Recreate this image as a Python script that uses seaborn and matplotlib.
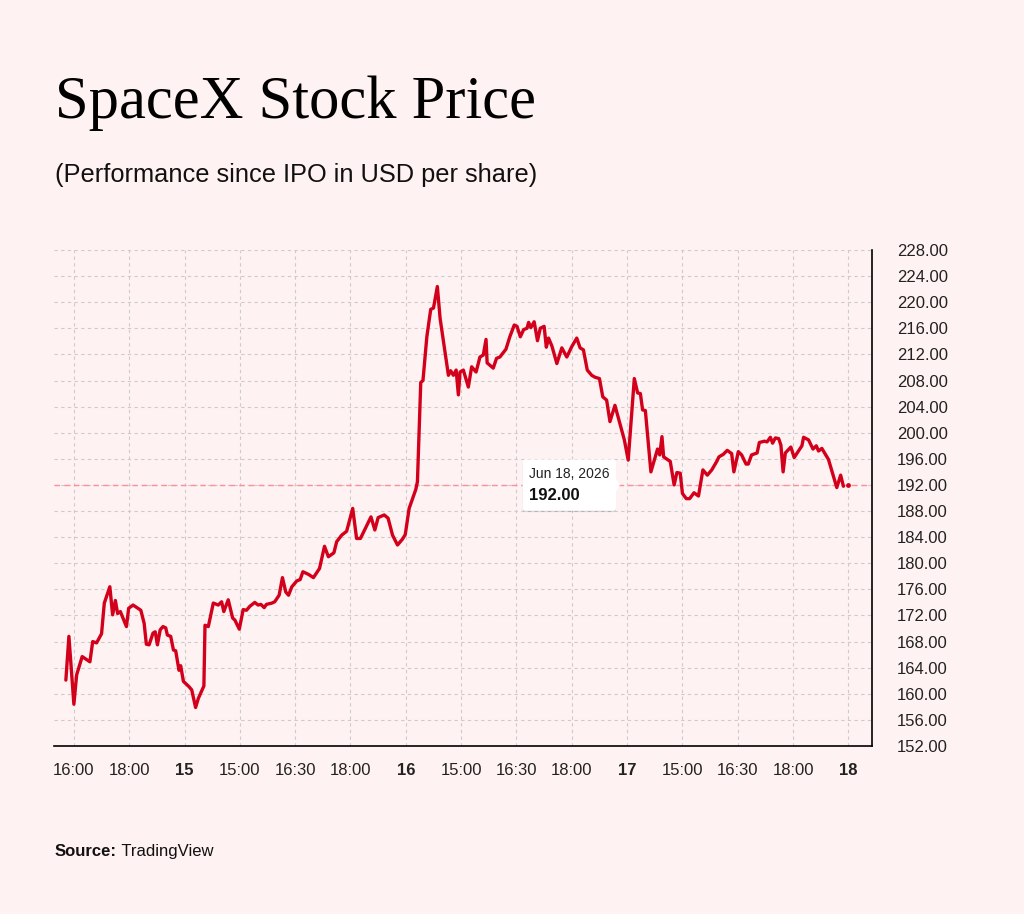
import matplotlib.pyplot as plt
import matplotlib.patches as mpatches
import matplotlib.patheffects as pe
import pandas as pd
import seaborn as sns

# axis labels (TradingView style, evenly spaced)
tick_labels = ['16:00', '18:00', '15', '15:00', '16:30', '18:00', '16', '15:00',
               '16:30', '18:00', '17', '15:00', '16:30', '18:00', '18']
day_labels = ['15', '16', '17', '18']

# position along the x axis (in tick steps) and price
pos = [-0.145, -0.09, 0.0, 0.05, 0.15, 0.29, 0.34, 0.41, 0.50, 0.55, 0.65, 0.70,
       0.75, 0.79, 0.84, 0.95, 0.99, 1.07, 1.14, 1.21, 1.27, 1.31, 1.36, 1.43,
       1.47, 1.51, 1.56, 1.61, 1.66, 1.69, 1.75, 1.80, 1.84, 1.90, 1.93, 1.98,
       2.08, 2.13, 2.20, 2.25, 2.35, 2.37, 2.43, 2.52, 2.61, 2.67, 2.71, 2.79,
       2.87, 2.91, 2.99, 3.06, 3.12, 3.18, 3.27, 3.33, 3.38, 3.44, 3.48, 3.58,
       3.63, 3.71, 3.77, 3.83, 3.88, 3.94, 4.03, 4.09, 4.14, 4.24, 4.33, 4.44,
       4.53, 4.60, 4.70, 4.75, 4.84, 4.93, 5.04, 5.11, 5.18, 5.29, 5.37, 5.44,
       5.50, 5.61, 5.68, 5.76, 5.85, 5.94, 5.99, 6.06, 6.18, 6.21, 6.27, 6.31,
       6.38, 6.45, 6.50, 6.57, 6.62, 6.77, 6.81, 6.86, 6.91, 6.95, 6.98, 7.04,
       7.13, 7.19, 7.27, 7.34, 7.40, 7.45, 7.47, 7.58, 7.64, 7.70, 7.81, 7.88,
       7.96, 8.01, 8.07, 8.13, 8.19, 8.22, 8.26, 8.32, 8.38, 8.43, 8.50, 8.54,
       8.58, 8.64, 8.73, 8.82, 8.91, 9.00, 9.09, 9.15, 9.21, 9.28, 9.36, 9.42,
       9.50, 9.56, 9.63, 9.69, 9.78, 9.87, 9.95, 10.02, 10.13, 10.19, 10.24,
       10.28, 10.33, 10.43, 10.55, 10.59, 10.63, 10.66, 10.78, 10.85, 10.90,
       10.96, 11.00, 11.07, 11.13, 11.21, 11.29, 11.37, 11.45, 11.53, 11.62,
       11.66, 11.74, 11.81, 11.89, 11.93, 12.01, 12.07, 12.15, 12.19, 12.25,
       12.35, 12.39, 12.48, 12.53, 12.59, 12.63, 12.68, 12.74, 12.78, 12.82,
       12.86, 12.96, 13.02, 13.16, 13.19, 13.28, 13.36, 13.42, 13.46, 13.52,
       13.64, 13.73, 13.79, 13.86, 13.91]
price = [162.1, 168.8, 158.4, 162.9, 165.7, 164.9, 168.0, 167.8, 169.2, 173.9,
         176.4, 172.1, 174.3, 172.3, 172.6, 170.3, 173.1, 173.6, 173.2, 172.8,
         170.8, 167.6, 167.5, 169.3, 169.5, 167.5, 169.8, 170.3, 170.1, 169.0,
         168.8, 166.7, 166.6, 163.6, 164.3, 161.9, 161.1, 160.6, 157.9, 159.3,
         161.2, 170.5, 170.3, 173.9, 173.6, 174.1, 172.6, 174.4, 171.6, 171.3,
         169.9, 172.9, 172.8, 173.4, 174.0, 173.6, 173.7, 173.2, 173.7, 173.9,
         174.1, 175.1, 177.8, 175.6, 175.1, 176.4, 177.3, 177.5, 178.7, 178.3,
         177.8, 179.2, 182.6, 181.0, 181.6, 183.3, 184.3, 184.9, 188.4, 183.8,
         183.8, 185.7, 187.1, 185.1, 187.0, 187.4, 186.9, 184.3, 182.8, 183.7,
         184.4, 188.4, 191.3, 192.5, 207.7, 208.0, 214.7, 218.9, 219.1, 222.4,
         217.5, 208.8, 209.5, 208.8, 209.6, 205.8, 209.3, 209.6, 207.0, 210.1,
         209.3, 211.6, 211.9, 214.3, 210.7, 209.9, 211.4, 211.6, 212.8, 214.7,
         216.5, 216.3, 214.7, 215.8, 216.0, 216.9, 216.1, 217.0, 214.1, 216.0,
         216.3, 213.1, 214.5, 213.3, 210.6, 213.0, 211.6, 213.2, 214.5, 213.0,
         212.7, 209.6, 208.8, 208.5, 208.3, 205.5, 205.0, 201.7, 204.2, 201.4,
         198.9, 195.8, 208.3, 206.1, 206.0, 203.5, 203.4, 194.0, 197.5, 196.6,
         199.4, 196.3, 195.6, 192.0, 193.9, 193.8, 190.7, 189.9, 189.9, 190.8,
         190.3, 194.3, 193.5, 194.3, 195.6, 196.3, 196.7, 197.3, 196.8, 194.0,
         197.1, 196.6, 195.2, 195.2, 196.6, 196.9, 198.5, 198.7, 198.6, 199.3,
         198.4, 199.2, 199.1, 198.1, 194.0, 196.9, 197.8, 196.2, 198.0, 199.3,
         198.9, 197.5, 198.0, 197.2, 197.6, 195.9, 193.3, 191.6, 193.5, 191.8]

last_date = 'Jun 18, 2026'
last_price = 192.00

bg = '#FFF2F2'
red = '#D3001B'

sns.set_style('white')
plt.rcParams['font.family'] = ['Liberation Sans', 'DejaVu Sans']

fig = plt.figure(figsize=(10.24, 9.14), dpi=100, facecolor=bg)
ax = fig.add_axes([0.0527, 0.1838, 0.7985, 0.5427])
ax.set_facecolor(bg)

df = pd.DataFrame({'pos': pos, 'price': price})
sns.lineplot(data=df, x='pos', y='price', color=red, lw=2.4, estimator=None,
             sort=False, ax=ax, zorder=4)
ax.scatter([len(tick_labels) - 1], [last_price], s=12, color=red, zorder=5, lw=0)
ax.axhline(last_price, color='#FF8E9B', lw=1.0, ls=(0, (4, 3)), zorder=2)

# tooltip box
box = mpatches.FancyBboxPatch((8.11, 188.05), 1.69, 7.85,
                              boxstyle='round,pad=0,rounding_size=0.05',
                              mutation_aspect=8.47, fc='white', ec='none', zorder=6)
box.set_path_effects([pe.SimplePatchShadow(offset=(0, -1), shadow_rgbFace='k', alpha=0.12),
                      pe.Normal()])
ax.add_patch(box)
ax.add_patch(mpatches.Polygon([(9.79, 193.1), (9.87, 192.0), (9.79, 190.9)],
                              closed=True, fc='white', ec='none', zorder=6))
ax.text(8.23, 193.7, last_date, fontsize=10, color='#222222', va='center', ha='left', zorder=7)
ax.text(8.23, 190.35, f'{last_price:.2f}', fontsize=12, fontweight='bold',
        color='#111111', va='center', ha='left', zorder=7)

ax.set_xlim(-0.36, 14.42)
ax.set_ylim(152, 228)
ax.set_xticks(range(len(tick_labels)))
ax.set_xticklabels(tick_labels)
for lab in ax.get_xticklabels():
    if lab.get_text() in day_labels:
        lab.set_fontweight('bold')
yt = list(range(152, 229, 4))
ax.set_yticks(yt)
ax.set_yticklabels([f'{v:.2f}' for v in yt])
ax.yaxis.tick_right()
ax.tick_params(axis='y', length=0, pad=18, labelsize=12, colors='#222222')
ax.tick_params(axis='x', length=5, width=1.1, direction='out', pad=7,
               labelsize=12, colors='#222222')
ax.set_xlabel('')
ax.set_ylabel('')

ax.grid(True, color='#cccccc', ls=(0, (3, 3)), lw=0.8)
ax.set_axisbelow(True)
for side in ['left', 'top']:
    ax.spines[side].set_visible(False)
for side in ['bottom', 'right']:
    ax.spines[side].set_visible(True)
    ax.spines[side].set_color('black')
    ax.spines[side].set_linewidth(1.2)

fig.text(0.0537, 0.871, 'SpaceX Stock Price', family=['Liberation Serif', 'DejaVu Serif'],
         fontsize=43.7, color='black', va='baseline', ha='left')
fig.text(0.0537, 0.801, '(Performance since IPO in USD per share)', fontsize=18.3,
         color='#111111', va='baseline', ha='left')
src = fig.text(0.0537, 0.0635, 'Source:', fontsize=12, fontweight='bold',
               color='#111111', va='baseline', ha='left')
ax.annotate(' TradingView', xy=(1, 0), xycoords=src, fontsize=12, color='#111111',
            va='bottom', ha='left', annotation_clip=False)

fig.savefig('out.png', dpi=100, facecolor=bg)
